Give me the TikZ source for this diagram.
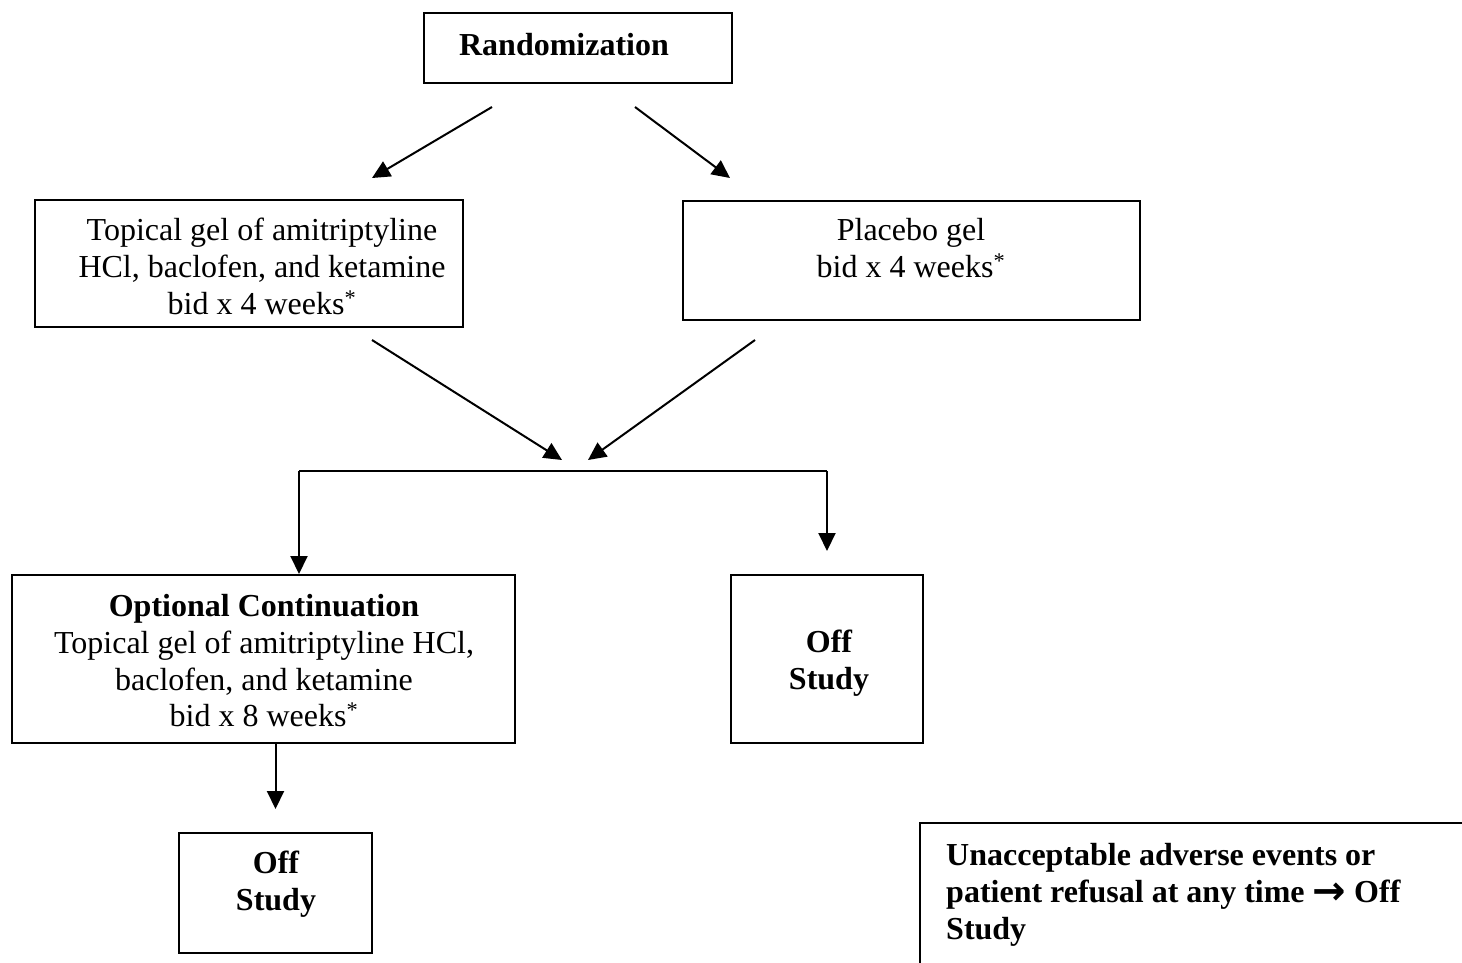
\documentclass[tikz,border=0pt]{standalone}
\usepackage{fontspec}
\setmainfont{Liberation Serif}
\newfontfamily\arrowfont{DejaVu Sans}
\usetikzlibrary{arrows.meta}
\begin{document}
\begin{tikzpicture}[x=1pt,y=-1pt,
  box/.style={draw, line width=2pt, inner sep=0pt},
  txt/.style={align=center, inner sep=0pt, anchor=north, font=\fontsize{32}{36.8}\selectfont},
  btxt/.style={txt, font=\fontsize{32}{36.8}\selectfont\bfseries},
  arr/.style={line width=2pt, -{Triangle[length=18pt,width=17pt]}},
  ln/.style={line width=2pt}]
\useasboundingbox (0,0) rectangle (1462,962);
% boxes
\node[box, minimum width=308pt, minimum height=70pt] (rand) at (578,48) {};
\node[box, minimum width=428pt, minimum height=127pt] (tl) at (249,263.5) {};
\node[box, minimum width=457pt, minimum height=119pt] (tr) at (911.5,260.5) {};
\node[box, minimum width=503pt, minimum height=168pt] (opt) at (263.5,659) {};
\node[box, minimum width=192pt, minimum height=168pt] (off1) at (827,659) {};
\node[box, minimum width=193pt, minimum height=120pt] (off2) at (275.5,893) {};
\begin{scope}
\clip (0,0) rectangle (1462,962);
\node[box, minimum width=600pt, minimum height=200pt, anchor=north west] (note) at (919,822) {};
\end{scope}
% texts
\node[btxt] (rand-t) at (564,33) {Randomization};
\node[txt] (tl-t) at (262,218) {Topical gel of amitriptyline\\HCl, baclofen, and ketamine\\bid x 4 weeks\textsuperscript{*}};
\node[txt] (tr-t) at (911,218) {Placebo gel\\bid x 4 weeks\textsuperscript{*}};
\node[txt] (opt-t) at (264,594) {\bfseries Optional Continuation\\Topical gel of amitriptyline HCl,\\baclofen, and ketamine\\bid x 8 weeks\textsuperscript{*}};
\node[btxt] (off1-t) at (829,630) {Off\\Study};
\node[btxt] (off2-t) at (276,851) {Off\\Study};
\node[btxt, align=left, anchor=north west] (note-t) at (946,843) {Unacceptable adverse events or\\patient refusal at any time {\arrowfont\bfseries\fontsize{40}{36.8}\selectfont\raisebox{-2pt}{→}} Off\\Study};
% connectors
\coordinate (a1s) at (492,107); \coordinate (a1e) at (372,178);
\coordinate (a2s) at (635,107); \coordinate (a2e) at (730,178);
\coordinate (a3s) at (372,340); \coordinate (a3e) at (562,460);
\coordinate (a4s) at (755,340); \coordinate (a4e) at (588,460);
\coordinate (bL) at (299,471); \coordinate (bR) at (827,471);
\draw[arr] (a1s) -- (a1e);
\draw[arr] (a2s) -- (a2e);
\draw[arr] (a3s) -- (a3e);
\draw[arr] (a4s) -- (a4e);
\draw[ln] (bL) -- (bR);
\draw[arr] (bL) -- (bL |- opt.north);
\draw[arr] (bR) -- ([yshift=23pt]off1.north);
\draw[arr] (opt.south -| off2.north) -- ([yshift=23pt]off2.north);
\end{tikzpicture}
\end{document}
